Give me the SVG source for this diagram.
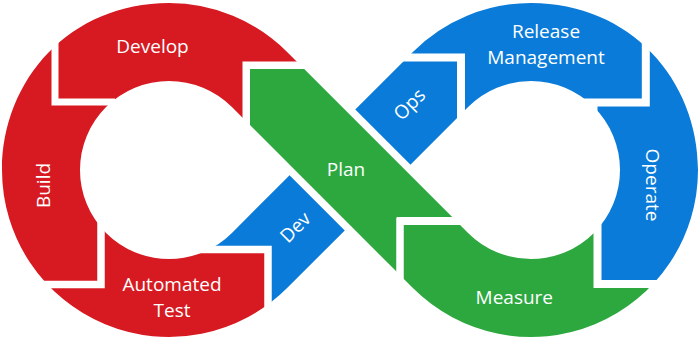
<svg xmlns="http://www.w3.org/2000/svg" width="700" height="340" viewBox="0 0 700 340">
<style>
.red{fill:#d71a21}
.blue{fill:#0a7bd8}
.green{fill:#2ca83f}
.seg{clip-path:url(#fig)}
.lbl{fill:#ffffff;font-family:"Open Sans","Liberation Sans",sans-serif;font-size:19px;text-anchor:middle}
.gap{fill:none;stroke:#ffffff;stroke-linejoin:miter;stroke-linecap:butt}
</style>
<defs>
<clipPath id="fig">
<path d="M287.09 51.91 A167 167 0 0 0 169 3 C70 3 2 80 2 170 A167 167 0 0 0 287.09 288.09 L231.93 232.93 A89 89 0 1 1 231.93 107.07 Z"/>
<path d="M412.91 51.91 A167 167 0 0 1 531 3 C630 3 698 80 698 170 A167 167 0 0 1 412.91 288.09 L468.07 232.93 A89 89 0 1 0 468.07 107.07 Z"/>
<polygon points="231.93,107.07 287.09,51.91 468.07,232.93 412.91,288.09"/>
<polygon points="231.93,232.93 287.09,288.09 468.07,107.07 412.91,51.91"/>
</clipPath>
</defs>
<rect width="700" height="340" fill="#ffffff"/>
<g id="develop">
<polygon class="red seg" points="55,0 350,0 350,65 246,65 246,130 130,130 130,102 55,102"/>
<text class="lbl" x="152.5" y="53">Develop</text>
</g>
<g id="build">
<polygon class="red seg" points="0,0 55,0 55,102 130,102 130,200 101,200 101,285 0,285"/>
<text class="lbl" transform="translate(50,185.5) rotate(-90)">Build</text>
</g>
<g id="automated-test">
<polygon class="red seg" points="0,285 101,285 101,200 180,200 180,249.5 268,249.5 268,345 0,345"/>
<text class="lbl" y="290.5"><tspan x="172">Automated</tspan><tspan x="172" dy="26">Test</tspan></text>
</g>
<g id="dev">
<polygon class="blue seg" points="180,140 320,140 377.5,197.5 377.5,345 268,345 268,249.5 180,249.5"/>
<text class="lbl" transform="translate(300,232) rotate(-45)">Dev</text>
</g>
<g id="ops">
<polygon class="blue seg" points="310,130 380,57.5 461,57.5 461,160 377.5,197.5"/>
<text class="lbl" transform="translate(414,109) rotate(-45)">Ops</text>
</g>
<g id="release-management">
<polygon class="blue seg" points="380,0 645.8,0 645.8,102.5 580,102.5 580,130 461,130 461,57.5 380,57.5"/>
<text class="lbl" y="38"><tspan x="546">Release</tspan><tspan x="546" dy="26">Management</tspan></text>
</g>
<g id="operate">
<polygon class="blue seg" points="645.8,0 700,0 700,284 597.5,284 597.5,102.5 645.8,102.5"/>
<text class="lbl" transform="translate(646.4,185) rotate(90)">Operate</text>
</g>
<g id="plan">
<polygon class="green" stroke="#ffffff" stroke-width="15" stroke-linejoin="miter" paint-order="stroke" points="250,69 304.2,69 452.2,217 397,217 397,272.1 250,125.1"/>
<text class="lbl" x="346" y="176">Plan</text>
</g>
<g id="measure">
<polygon class="green seg" points="400,221.2 597.5,221.2 597.5,284 700,284 700,345 400,345"/>
<text class="lbl" x="514.3" y="304">Measure</text>
</g>
<g id="connectors">
<path class="gap" stroke-width="7" d="M55 30 V102 H115"/>
<path class="gap" stroke-width="7.5" d="M20 284.5 H101 V220"/>
<path class="gap" stroke-width="7.5" d="M195 249.5 H268 V320"/>
<path class="gap" stroke-width="7.5" d="M400 290 V221.2 H475"/>
<path class="gap" stroke-width="8" d="M597.5 215 V284 H690"/>
<path class="gap" stroke-width="8" d="M575 102.5 H645.8 V20"/>
<path class="gap" stroke-width="8" d="M461 135 V57.5 H380"/>
</g>
</svg>
